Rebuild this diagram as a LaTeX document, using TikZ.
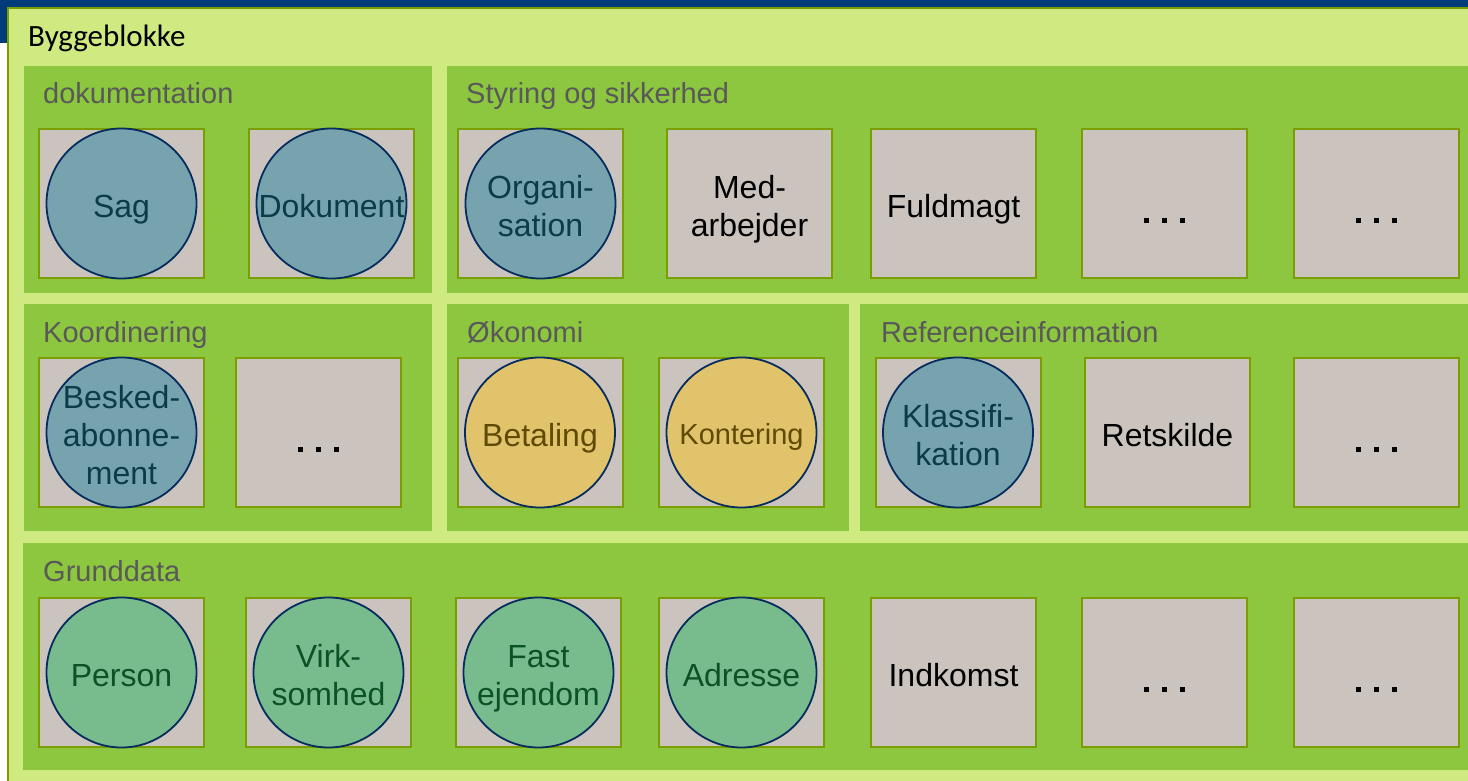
\documentclass[tikz,border=0pt]{standalone}
\usepackage{fontspec}
\setmainfont{Liberation Sans}
\newfontfamily\blokfont{Carlito}
\usepackage{xcolor}
\definecolor{topblaa}{HTML}{003B7A}
\definecolor{lysgroen}{HTML}{CFEA80}
\definecolor{groen}{HTML}{8DC63F}
\definecolor{oliven}{HTML}{7A9E00}
\definecolor{graa}{HTML}{CBC4BE}
\definecolor{overskrift}{HTML}{595959}
\definecolor{kant}{HTML}{062C5E}
\definecolor{blaa}{HTML}{77A3AF}
\definecolor{blaatekst}{HTML}{0B3C48}
\definecolor{gul}{HTML}{E1C36B}
\definecolor{gultekst}{HTML}{604A00}
\definecolor{mint}{HTML}{78BC8D}
\definecolor{minttekst}{HTML}{0B5227}
\newcommand{\topstrut}{\rule[-0.212em]{0pt}{1.27em}}
\newcommand{\bundstrut}{\rule[-0.212em]{0pt}{1.117em}}
\newcommand{\prik}{\rule[-5.5pt]{5pt}{5pt}}
\newcommand{\prikker}{\prik\hspace{12.8pt}\prik\hspace{12.8pt}\prik}

\begin{document}
\begin{tikzpicture}[x=1pt,y=-1pt,
	panel/.style={fill=groen},
	blok/.style={draw=oliven,line width=2pt,fill=graa,minimum width=165pt,minimum height=149pt,inner sep=0pt,text width=165pt,align=center,font=\fontsize{32}{38}\selectfont,execute at begin node=\topstrut,execute at end node=\bundstrut},
	kerne/.style={circle,draw=kant,line width=1.8pt,minimum size=150pt,inner sep=-40pt,text width=165pt,align=center,font=\fontsize{32}{38}\selectfont,execute at begin node=\topstrut,execute at end node=\bundstrut},
	blaakerne/.style={kerne,fill=blaa,text=blaatekst},
	gulkerne/.style={kerne,fill=gul,text=gultekst},
	mintkerne/.style={kerne,fill=mint,text=minttekst},
	titel/.style={anchor=base west,inner sep=0pt,text=overskrift,font=\fontsize{29}{34}\selectfont}]

	\useasboundingbox (0,0) rectangle (1468,781);
	\clip (0,0) rectangle (1468,781);
	\fill[white] (0,0) rectangle (1468,781);
	\fill[topblaa] (0,0) rectangle (1468,7);
	\fill[topblaa] (0,0) rectangle (8,43);
	\draw[oliven,line width=2pt,fill=lysgroen] (8,8) rectangle (1490,800);
	\node[anchor=base west,inner sep=0pt,font=\blokfont\fontsize{31}{36}\selectfont] (bygge) at (28,47) {Byggeblokke};

	\fill[panel] (24,66) rectangle (432,293);
	\fill[panel] (447,66) rectangle (1490,293);
	\fill[panel] (24,304) rectangle (432,531);
	\fill[panel] (447,304) rectangle (849,531);
	\fill[panel] (860,304) rectangle (1490,531);
	\fill[panel] (23,543) rectangle (1490,770);

	\node[titel] (t-dok) at (43,104) {dokumentation};
	\node[titel] (t-styr) at (466,104) {Styring og sikkerhed};
	\node[titel] (t-koord) at (43,342) {Koordinering};
	\node[titel] (t-oek) at (467,342) {Økonomi};
	\node[titel] (t-ref) at (881,342) {Referenceinformation};
	\node[titel] (t-grund) at (43,581) {Grunddata};

	\node[blok] (b11) at (121.5,203.5) {};
	\node[blaakerne] (sag) at (b11) {Sag};
	\node[blok] (b12) at (331.5,203.5) {};
	\node[blaakerne] (dokument) at (b12) {Dokument};
	\node[blok] (b13) at (540.5,203.5) {};
	\node[blaakerne] (organisation) at (b13) {Organi-\\sation};
	\node[blok] (b14) at (749.5,203.5) {Med-\\arbejder};
	\node[blok] (b15) at (953.5,203.5) {Fuldmagt};
	\node[blok] (b16) at (1164.5,203.5) {\prikker};
	\node[blok] (b17) at (1376.5,203.5) {\prikker};

	\node[blok] (b21) at (121.5,432.5) {};
	\node[blaakerne] (besked) at (b21) {Besked-\\abonne-\\ment};
	\node[blok] (b22) at (318.5,432.5) {\prikker};
	\node[blok] (b23) at (540,432.5) {};
	\node[gulkerne] (betaling) at (b23) {Betaling};
	\node[blok] (b24) at (741.5,432.5) {};
	\node[gulkerne,font=\fontsize{29}{35}\selectfont] (kontering) at (b24) {Kontering};
	\node[blok] (b25) at (958,432.5) {};
	\node[blaakerne] (klassifikation) at (b25) {Klassifi-\\kation};
	\node[blok] (b26) at (1167.5,432.5) {Retskilde};
	\node[blok] (b27) at (1376.5,432.5) {\prikker};

	\node[blok] (b31) at (121.5,672.5) {};
	\node[mintkerne] (person) at (b31) {Person};
	\node[blok] (b32) at (328.5,672.5) {};
	\node[mintkerne] (virksomhed) at (b32) {Virk-\\somhed};
	\node[blok] (b33) at (538.5,672.5) {};
	\node[mintkerne] (ejendom) at (b33) {Fast\\ejendom};
	\node[blok] (b34) at (741.5,672.5) {};
	\node[mintkerne] (adresse) at (b34) {Adresse};
	\node[blok] (b35) at (953.5,672.5) {Indkomst};
	\node[blok] (b36) at (1164.5,672.5) {\prikker};
	\node[blok] (b37) at (1376.5,672.5) {\prikker};
\end{tikzpicture}
\end{document}
